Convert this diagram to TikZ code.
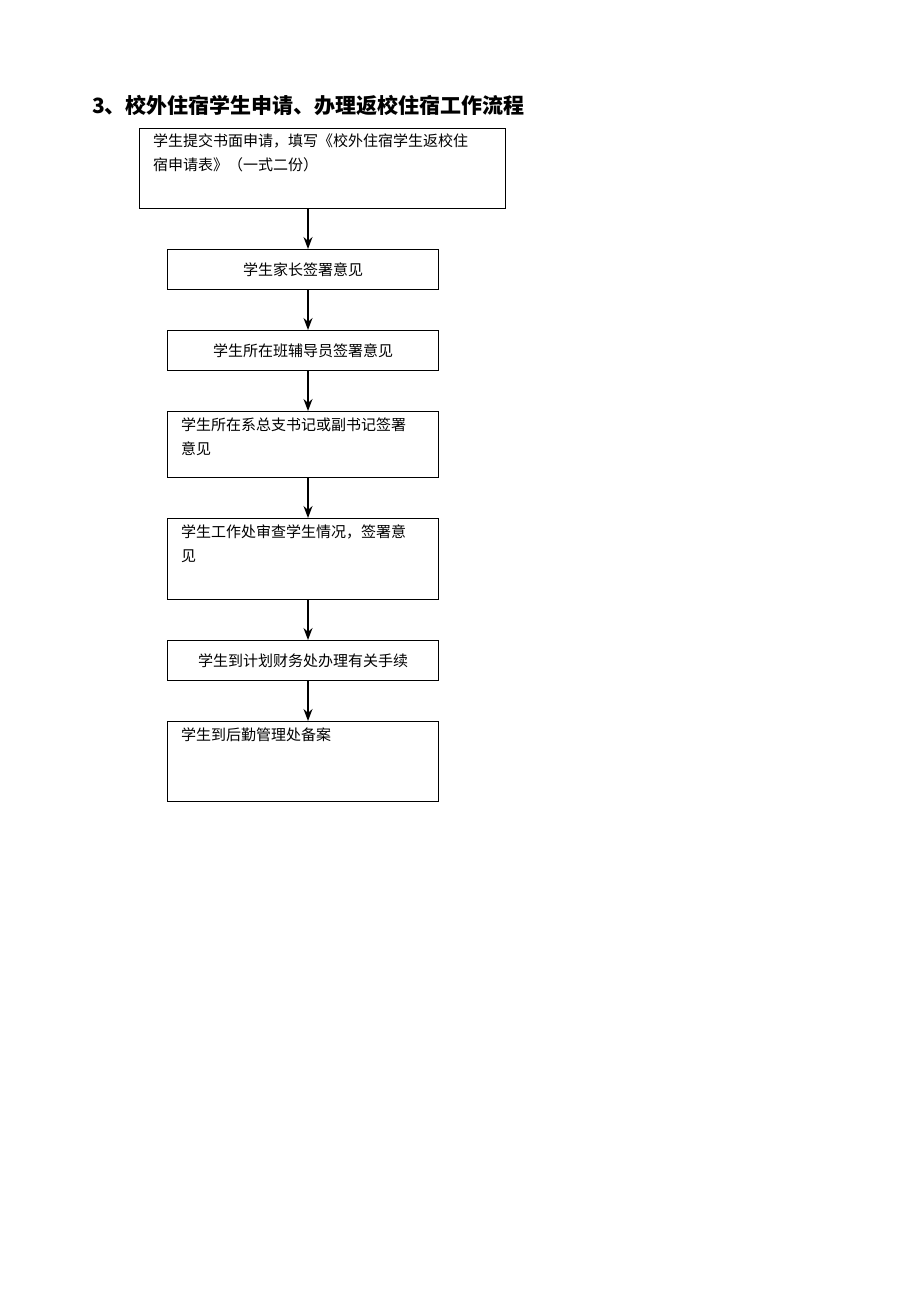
\documentclass[tikz,border=0pt]{standalone}
\usepackage{fontspec}
\setmainfont{Noto Sans CJK SC}
\usetikzlibrary{arrows.meta}
\begin{document}
\begin{tikzpicture}[x=1pt,y=-1pt,
  box/.style={draw,line width=1.4pt,inner sep=0pt},
  txt/.style={anchor=north west,align=left,inner sep=0pt,font=\fontsize{15}{24}\selectfont},
  ctxt/.style={anchor=center,inner sep=0pt,font=\fontsize{15}{24}\selectfont},
  arr/.style={-{Stealth[length=12pt,width=9pt]},line width=1.4pt}]
\useasboundingbox (0,0) rectangle (920,1300);
\node[anchor=west,inner sep=0pt,font=\fontsize{21}{24}\selectfont\bfseries] (title) at (92,105) {3、校外住宿学生申请、办理返校住宿工作流程};
\node[box,minimum width=366pt,minimum height=80pt,anchor=north west] (b1) at (139,128) {};
\node[txt] (t1) at (153,134) {学生提交书面申请，填写《校外住宿学生返校住\\宿申请表》（一式二份）};
\node[box,minimum width=271pt,minimum height=40pt,anchor=north west] (b2) at (167,249) {};
\node[ctxt] (t2) at (b2.center) {学生家长签署意见};
\node[box,minimum width=271pt,minimum height=40pt,anchor=north west] (b3) at (167,330) {};
\node[ctxt] (t3) at (b3.center) {学生所在班辅导员签署意见};
\node[box,minimum width=271pt,minimum height=66pt,anchor=north west] (b4) at (167,411) {};
\node[txt] (t4) at (181,418) {学生所在系总支书记或副书记签署\\意见};
\node[box,minimum width=271pt,minimum height=81pt,anchor=north west] (b5) at (167,518) {};
\node[txt] (t5) at (181,525) {学生工作处审查学生情况，签署意\\见};
\node[box,minimum width=271pt,minimum height=40pt,anchor=north west] (b6) at (167,640) {};
\node[ctxt] (t6) at (b6.center) {学生到计划财务处办理有关手续};
\node[box,minimum width=271pt,minimum height=80pt,anchor=north west] (b7) at (167,721) {};
\node[txt] (t7) at (181,728) {学生到后勤管理处备案};
\draw[arr] (b1.south -| 308,0) -- (b2.north -| 308,0);
\draw[arr] (b2.south -| 308,0) -- (b3.north -| 308,0);
\draw[arr] (b3.south -| 308,0) -- (b4.north -| 308,0);
\draw[arr] (b4.south -| 308,0) -- (b5.north -| 308,0);
\draw[arr] (b5.south -| 308,0) -- (b6.north -| 308,0);
\draw[arr] (b6.south -| 308,0) -- (b7.north -| 308,0);
\end{tikzpicture}
\end{document}
